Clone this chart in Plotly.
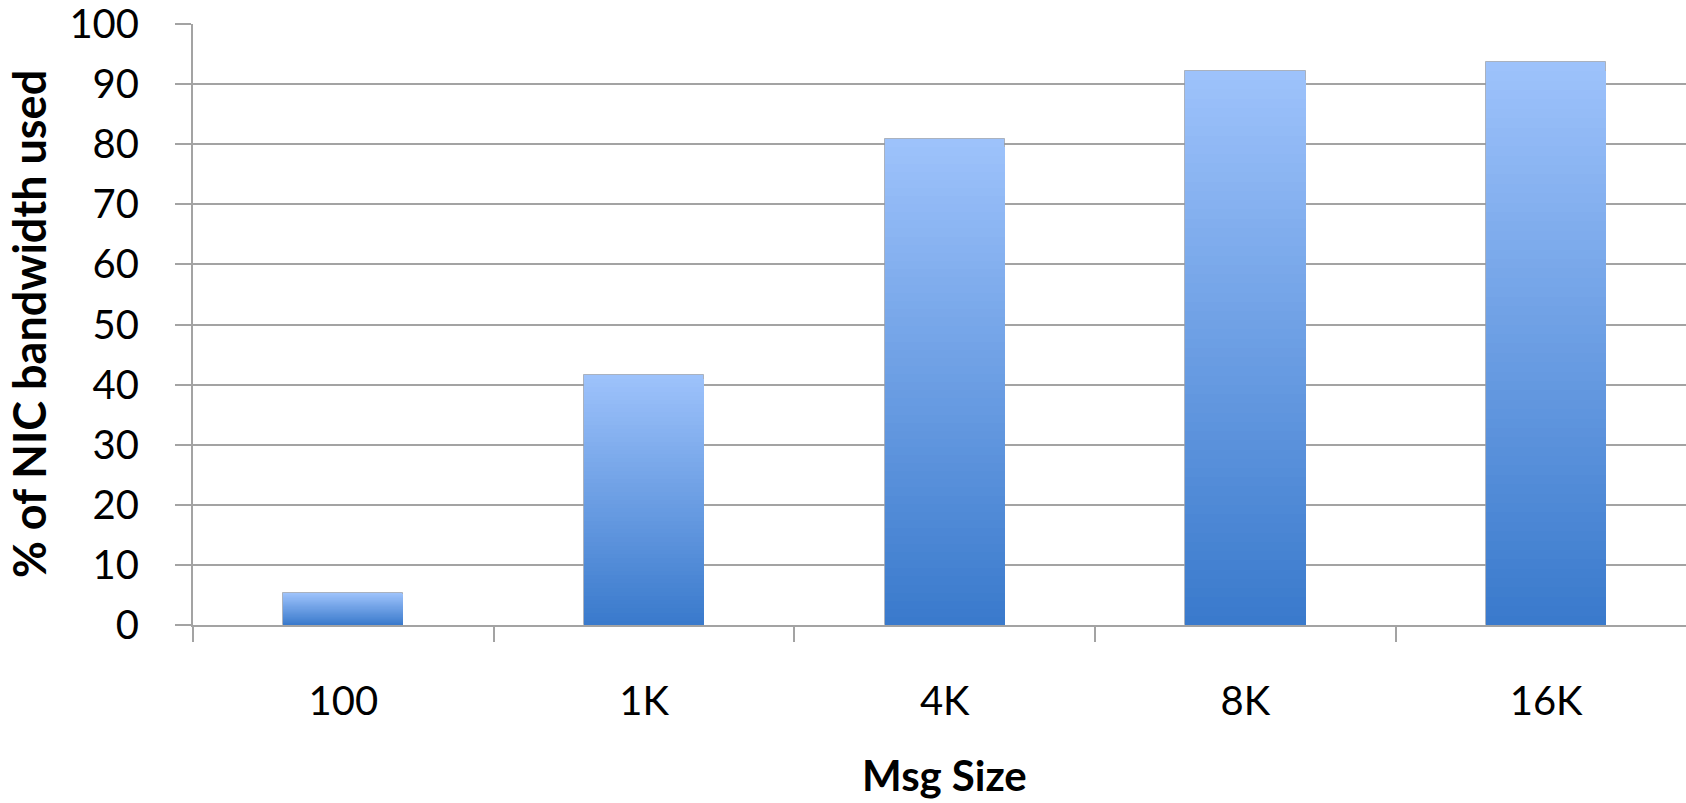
import plotly.graph_objects as go

categories = ["100", "1K", "4K", "8K", "16K"]
values = [5.3, 41.6, 80.8, 92.2, 93.7]
y_ticks = [0, 10, 20, 30, 40, 50, 60, 70, 80, 90, 100]

x_title = "Msg Size"
y_title = "% of NIC bandwidth used"

TOP = (157, 194, 251)
BOTTOM = (58, 122, 204)
N = 60
GRID = "#a3a3a3"

fig = go.Figure()
for i in range(N):
    frac = 1 - i / N  # height fraction of this overlay layer
    t = i / (N - 1)
    c = tuple(round(TOP[k] + (BOTTOM[k] - TOP[k]) * t) for k in range(3))
    fig.add_trace(go.Bar(
        x=categories,
        y=[v * frac for v in values],
        width=0.4,
        marker=dict(
            color=f"rgb{c}",
            line=dict(width=1 if i == 0 else 0, color="rgba(140,140,140,0.55)"),
        ),
        showlegend=False,
        hoverinfo="skip" if i else "y",
    ))

W, H = 1686, 803
L, R, T, B = 193, 0, 24, 178
plot_w = W - L - R
plot_h = H - T - B
cat_w = 300.7
x_max = -0.5 + plot_w / cat_w

fig.update_layout(
    width=W, height=H,
    barmode="overlay",
    bargap=0,
    plot_bgcolor="white",
    paper_bgcolor="white",
    margin=dict(l=L, r=R, t=T, b=B, pad=0, autoexpand=False),
    font=dict(family="Lato", color="black"),
    xaxis=dict(
        range=[-0.5, x_max],
        automargin=False,
        showgrid=False,
        showline=True, linecolor=GRID, linewidth=2,
        ticks="outside", tickson="boundaries", ticklen=15, tickwidth=2, tickcolor=GRID,
        tickfont=dict(size=40, family="Lato", color="black"),
        ticklabelstandoff=40,
        ticklabeloverflow="allow",
        zeroline=False,
    ),
    yaxis=dict(
        range=[0, 100],
        automargin=False,
        tickvals=y_ticks,
        showgrid=True, gridcolor=GRID, gridwidth=2,
        showline=True, linecolor=GRID, linewidth=2,
        ticks="outside", ticklen=16, tickwidth=2, tickcolor=GRID,
        tickfont=dict(size=40, family="Lato", color="black"),
        ticklabelstandoff=28,
        ticklabeloverflow="allow",
        zeroline=False,
    ),
    annotations=[
        dict(text=f"<b>{y_title}</b>", xref="paper", yref="paper",
             x=(29 - L) / plot_w, y=(H - B - 324) / plot_h, showarrow=False,
             textangle=-90, font=dict(size=45, family="Lato", color="black"),
             xanchor="center", yanchor="middle"),
        dict(text=f"<b>{x_title}</b>", xref="x", yref="paper",
             x=2, y=(H - B - 775) / plot_h, showarrow=False,
             font=dict(size=42, family="Lato", color="black"),
             xanchor="center", yanchor="middle"),
    ],
)

fig.write_html("out.html", config={"displayModeBar": False},
               post_script="document.body.style.margin='0';")
